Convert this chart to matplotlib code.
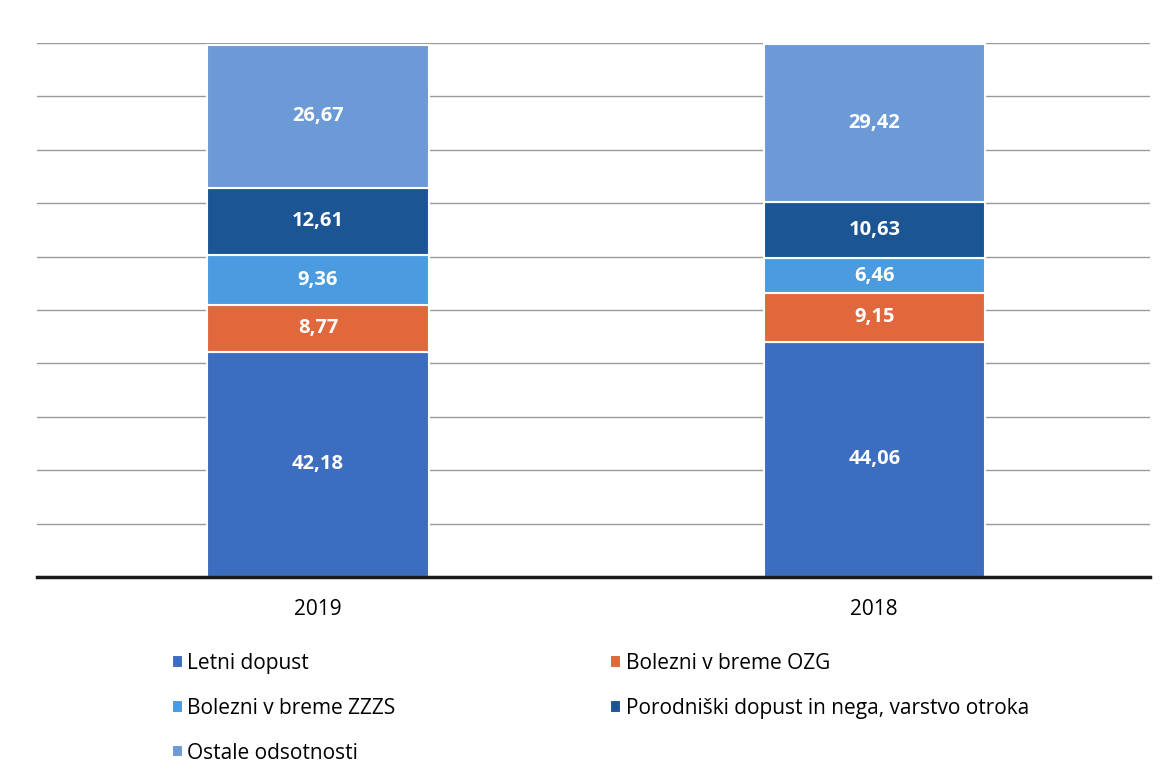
import numpy as np
import matplotlib.pyplot as plt

# Podatki (delež v %)
years = ['2019', '2018']
letni_dopust = [42.18, 44.06]
bolezni_ozg = [8.77, 9.15]
bolezni_zzzs = [9.36, 6.46]
porodniski = [12.61, 10.63]
ostale = [26.67, 29.42]

series = [
    ('Letni dopust', letni_dopust, '#3d6dbf'),
    ('Bolezni v breme OZG', bolezni_ozg, '#e0683c'),
    ('Bolezni v breme ZZZS', bolezni_zzzs, '#4a9be0'),
    ('Porodniški dopust in nega, varstvo otroka', porodniski, '#1c5593'),
    ('Ostale odsotnosti', ostale, '#6b9ad6'),
]

plt.rcParams['font.family'] = ['Open Sans', 'DejaVu Sans']

fig = plt.figure(figsize=(11.7, 7.81), dpi=100)
ax = fig.add_axes([0.0316, 0.261, 0.951, 0.684])

x = np.arange(len(years))
bottom = np.zeros(len(years))
handles = {}
for name, vals, col in series:
    vals = np.array(vals)
    bars = ax.bar(x, vals, 0.398, bottom=bottom, color=col, edgecolor='white',
                  linewidth=1.5, label=name, zorder=3)
    handles[name] = bars
    for xi, b, v in zip(x, bottom, vals):
        ax.text(xi, b + v / 2, f'{v:.2f}'.replace('.', ','), ha='center', va='center',
                color='white', fontsize=14.5, fontweight='bold', zorder=4)
    bottom += vals

ax.set_xlim(-0.505, 1.495)
ax.set_ylim(0, 100)
ax.set_yticks(np.arange(0, 101, 10))
ax.yaxis.grid(True, color='#9a9a9a', linewidth=1, zorder=0)
ax.set_yticklabels([])
ax.tick_params(axis='y', length=0)
ax.tick_params(axis='x', length=0, labelsize=15, pad=16)
ax.set_xticks(x)
ax.set_xticklabels(years)
for s in ['top', 'right', 'left']:
    ax.spines[s].set_visible(False)
ax.spines['bottom'].set_color('#1a1a1a')
ax.spines['bottom'].set_linewidth(2.5)
ax.spines['bottom'].set_zorder(5)

# vrstni red legende (po vrsticah kot v originalu)
order = ['Letni dopust', 'Bolezni v breme ZZZS', 'Ostale odsotnosti',
         'Bolezni v breme OZG', 'Porodniški dopust in nega, varstvo otroka']
fig.legend([handles[n] for n in order], order, ncol=2, loc='upper left',
           bbox_to_anchor=(0.1395, 0.175), frameon=False, fontsize=15,
           handlelength=0.55, handleheight=0.55, handletextpad=0.2,
           labelspacing=1.15, columnspacing=10.3, borderaxespad=0)

plt.savefig('out.png', dpi=100, facecolor='white')
